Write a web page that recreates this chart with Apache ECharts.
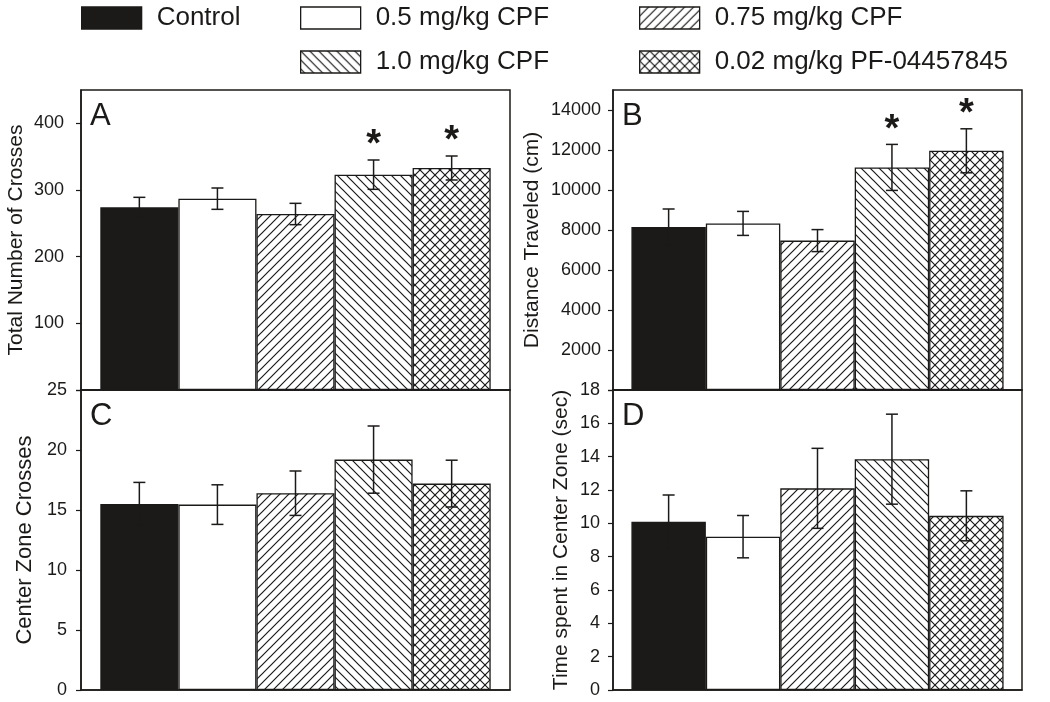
<!DOCTYPE html>
<html><head><meta charset="utf-8">
<script src="https://cdn.jsdelivr.net/npm/echarts@6/dist/echarts.min.js"></script>
<style>html,body{margin:0;padding:0;background:#fff}#c{width:1050px;height:702px}</style>
</head><body><div id="c"></div>
<script>
// ---------- data ----------
const groups = ['Control', '0.5 mg/kg CPF', '0.75 mg/kg CPF', '1.0 mg/kg CPF', '0.02 mg/kg PF-04457845'];

const crossesMean = [274, 287, 264, 323, 333];
const crossesSem = [15, 16, 16, 22, 18];
const crossesSig = [0, 0, 0, 1, 1];

const distanceMean = [8150, 8330, 7470, 11130, 11960];
const distanceSem = [900, 600, 550, 1150, 1100];
const distanceSig = [0, 0, 0, 1, 1];

const centerCrossesMean = [15.5, 15.45, 16.4, 19.2, 17.2];
const centerCrossesSem = [1.8, 1.65, 1.85, 2.8, 1.95];
const centerCrossesSig = [0, 0, 0, 0, 0];

const centerTimeMean = [10.1, 9.2, 12.1, 13.85, 10.45];
const centerTimeSem = [1.6, 1.27, 2.4, 2.7, 1.5];
const centerTimeSig = [0, 0, 0, 0, 0];

const ticksA = [0, 100, 200, 300, 400];
const labelsA = [100, 200, 300, 400];
const ticksB = [0, 2000, 4000, 6000, 8000, 10000, 12000, 14000];
const labelsB = [2000, 4000, 6000, 8000, 10000, 12000, 14000];

const panelLetters = ['A', 'B', 'C', 'D'];
const axisTitles = ['Total Number of Crosses', 'Distance Traveled (cm)', 'Center Zone Crosses', 'Time spent in Center Zone (sec)'];

// ---------- styling ----------
const INK = '#1b1a18';
const FONT = 'Liberation Sans, Arial, Helvetica, sans-serif';
const CAT_GAP = 0.09;

function hatch(kind, size) {
  const c = document.createElement('canvas');
  c.width = c.height = size;
  const g = c.getContext('2d');
  g.fillStyle = '#fff'; g.fillRect(0, 0, size, size);
  g.strokeStyle = INK; g.lineWidth = 1.2;
  const s = size;
  if (kind === 'fwd' || kind === 'cross') {
    g.beginPath();
    g.moveTo(-1, s + 1); g.lineTo(s + 1, -1);
    g.moveTo(-1, 1); g.lineTo(1, -1);
    g.moveTo(s - 1, s + 1); g.lineTo(s + 1, s - 1);
    g.stroke();
  }
  if (kind === 'back' || kind === 'cross') {
    g.beginPath();
    g.moveTo(-1, -1); g.lineTo(s + 1, s + 1);
    g.moveTo(s - 1, -1); g.lineTo(s + 1, 1);
    g.moveTo(-1, s - 1); g.lineTo(1, s + 1);
    g.stroke();
  }
  return { image: c, repeat: 'repeat' };
}
const fills = [INK, '#ffffff', hatch('fwd', 9), hatch('back', 9), hatch('cross', 10)];

const panels = [
  { mean: crossesMean, sem: crossesSem, sig: crossesSig, max: 450, interval: 100, ticks: ticksA, labels: labelsA,
    grid: { left: 81, top: 90, width: 429, height: 300 }, nameGap: 54, margin: 17, nameSize: 21 },
  { mean: distanceMean, sem: distanceSem, sig: distanceSig, max: 15000, interval: 2000, ticks: ticksB, labels: labelsB,
    grid: { left: 613, top: 90, width: 409, height: 300 }, nameGap: 70, margin: 12, nameSize: 21 },
  { mean: centerCrossesMean, sem: centerCrossesSem, sig: centerCrossesSig, max: 25, interval: 5,
    grid: { left: 81, top: 390, width: 429, height: 300 }, nameGap: 45, margin: 14, nameSize: 22 },
  { mean: centerTimeMean, sem: centerTimeSem, sig: centerTimeSig, max: 18, interval: 2,
    grid: { left: 613, top: 390, width: 409, height: 300 }, nameGap: 41, margin: 13, nameSize: 21 }
];

const grid = [], xAxis = [], yAxis = [], series = [], title = [];
panels.forEach((p, pi) => {
  grid.push(Object.assign({ show: true, borderColor: INK, borderWidth: 1.5, backgroundColor: 'transparent' }, p.grid));
  xAxis.push({
    type: 'category', gridIndex: pi, data: [''],
    axisLine: { show: true, lineStyle: { color: INK, width: 1.5 } },
    axisTick: { show: false }, axisLabel: { show: false }, splitLine: { show: false }
  });
  const y = {
    type: 'value', gridIndex: pi, min: 0, max: p.max, interval: p.interval,
    name: axisTitles[pi], nameLocation: 'middle', nameGap: p.nameGap,
    nameTextStyle: { fontSize: p.nameSize, color: INK, fontFamily: FONT },
    axisLine: { show: true, lineStyle: { color: INK, width: 1.5 } },
    axisTick: { show: true, inside: false, length: 5, lineStyle: { color: INK, width: 1.2 } },
    axisLabel: { fontSize: 18, color: INK, fontFamily: FONT, margin: p.margin, formatter: v => String(v) },
    splitLine: { show: false }
  };
  if (p.labels) {
    y.axisLabel.customValues = p.labels;
    y.axisTick.customValues = p.ticks;
  }
  yAxis.push(y);
  groups.forEach((gname, gi) => {
    series.push({
      type: 'bar', name: gname, xAxisIndex: pi, yAxisIndex: pi,
      data: [p.mean[gi]], barGap: '0%', barCategoryGap: (CAT_GAP * 100) + '%',
      itemStyle: { color: fills[gi], borderColor: INK, borderWidth: 1.3 },
      emphasis: { disabled: true }, silent: true, z: 2
    });
  });
  series.push({
    type: 'custom', xAxisIndex: pi, yAxisIndex: pi, z: 5, silent: true,
    data: p.mean.map((m, i) => [0, m, p.sem[i], p.sig[i], i]),
    encode: { x: 0, y: 1 },
    renderItem: function (params, api) {
      const idx = api.value(4), m = api.value(1), e = api.value(2), sig = api.value(3);
      const c = api.coord([0, m]);
      const band = api.size([1, 0])[0];
      const bw = band * (1 - CAT_GAP) / groups.length;
      const x = c[0] + (idx - (groups.length - 1) / 2) * bw;
      const yt = api.coord([0, m + e])[1], yb = api.coord([0, m - e])[1];
      const cap = 6;
      const ls = { stroke: INK, lineWidth: 1.5 };
      const ch = [
        { type: 'line', shape: { x1: x, y1: yt, x2: x, y2: yb }, style: ls },
        { type: 'line', shape: { x1: x - cap, y1: yt, x2: x + cap, y2: yt }, style: ls },
        { type: 'line', shape: { x1: x - cap, y1: yb, x2: x + cap, y2: yb }, style: ls }
      ];
      if (sig) {
        ch.push({ type: 'text', style: { text: '*', x: x, y: yt - 14, fill: INK, fontSize: 38, fontWeight: 'bold',
          fontFamily: FONT, align: 'center', verticalAlign: 'middle' } });
      }
      return { type: 'group', children: ch };
    }
  });
  title.push({
    text: panelLetters[pi], left: p.grid.left + 9, top: p.grid.top + 11, padding: 0,
    textStyle: { fontSize: 31, fontWeight: 'normal', color: INK, fontFamily: FONT }
  });
});

const legendPos = [[81, 5], [300, 5], [639, 5], [300, 49], [639, 49]];
const legend = groups.map((gname, gi) => ({
  data: [gname], left: legendPos[gi][0], top: legendPos[gi][1], padding: 0,
  itemWidth: 60, itemHeight: 22, selectedMode: false, icon: 'rect',
  itemStyle: { borderColor: INK, borderWidth: 1.3 },
  textStyle: { fontSize: 26, color: INK, fontFamily: FONT, padding: [0, 0, 0, 10] }
}));

const chart = echarts.init(document.getElementById('c'), null, { renderer: 'canvas' });
chart.setOption({
  animation: false, backgroundColor: '#ffffff',
  title, legend, grid, xAxis, yAxis, series
});
</script>
</body></html>
